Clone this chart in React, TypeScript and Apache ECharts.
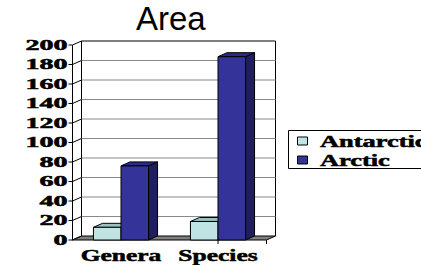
import React, { useEffect, useRef } from "react";
import * as echarts from "echarts";

const categories = ["Genera", "Species"];
const seriesNames = ["Antarctic", "Arctic"];
const antarcticValues = [13, 19];
const arcticValues = [76, 188];
const yTicks = [0, 20, 40, 60, 80, 100, 120, 140, 160, 180, 200];
const titleText = "Area";

const DX = 9;
const DY = -4;
const SERIF = "Liberation Serif";

const palette = [
  { front: "#C0E4E4", top: "#98C2C2", side: "#7FA6A6" },
  { front: "#333399", top: "#2B2B86", side: "#1F1F5C" },
];

function barRender(s: number) {
  return (params: any, api: any) => {
    const idx = api.value(0);
    const v = api.value(1);
    const top = api.coord([idx, v]);
    const base = api.coord([idx, 0]);
    const band = api.size([1, 0])[0];
    const w = band * 0.284;
    const xl = s === 0 ? top[0] - w : top[0];
    const xr = xl + w;
    const yt = top[1];
    const yb = base[1];
    const c = palette[s];
    const st = { stroke: "#000", lineWidth: 1 };
    return {
      type: "group",
      children: [
        {
          type: "polygon",
          shape: { points: [[xr, yt], [xr + DX, yt + DY], [xr + DX, yb + DY], [xr, yb]] },
          style: { fill: c.side, ...st },
        },
        {
          type: "polygon",
          shape: { points: [[xl, yt], [xr, yt], [xr + DX, yt + DY], [xl + DX, yt + DY]] },
          style: { fill: c.top, ...st },
        },
        {
          type: "rect",
          shape: { x: xl, y: yt, width: w, height: yb - yt },
          style: { fill: c.front, ...st },
        },
      ],
    };
  };
}

const heavy = { stroke: "#000", lineWidth: 0.5 };

export default function App() {
  const ref = useRef<HTMLDivElement>(null);
  useEffect(() => {
    if (!ref.current) return;
    const chart = echarts.init(ref.current, null, { renderer: "svg" });
    const valueSets = [antarcticValues, arcticValues];

    const legendChildren: any[] = [
      {
        type: "rect",
        shape: { x: 288.5, y: 130.5, width: 160, height: 38 },
        style: { fill: "#fff", stroke: "#000", lineWidth: 1 },
      },
    ];
    seriesNames.forEach((name, i) => {
      const cy = 141.5 + i * 19;
      legendChildren.push({
        type: "rect",
        shape: { x: 297.5, y: cy - 4.5, width: 10, height: 8 },
        style: { fill: palette[i].front, stroke: "#000", lineWidth: 1 },
      });
      legendChildren.push({
        type: "text",
        x: 320,
        y: cy,
        scaleX: 1.65,
        style: {
          text: name,
          fontFamily: SERIF,
          fontWeight: "bold",
          fontSize: 16,
          fill: "#000",
          ...heavy,
          align: "left",
          verticalAlign: "middle",
        },
      });
    });

    chart.setOption({
      animation: false,
      backgroundColor: "#fff",
      title: {
        text: titleText,
        left: 136,
        top: 2,
        padding: 0,
        textStyle: { fontFamily: "Liberation Sans", fontSize: 33, fontWeight: "normal", color: "#000" },
      },
      grid: { left: 72.5, top: 45, width: 194, height: 195 },
      xAxis: {
        type: "category",
        data: categories,
        axisLine: { show: false },
        axisTick: { show: false },
        axisLabel: { show: false },
      },
      yAxis: {
        type: "value",
        min: 0,
        max: 200,
        interval: 20,
        axisLine: { show: false },
        axisTick: { show: false },
        axisLabel: { show: false },
        splitLine: { show: false },
      },
      graphic: legendChildren,
      series: [
        {
          type: "custom",
          name: "frame",
          silent: true,
          clip: false,
          z: 1,
          data: [[0]],
          renderItem: (params: any, api: any) => {
            const cs = params.coordSys;
            const x0 = cs.x;
            const x1 = cs.x + cs.width;
            const yt = cs.y;
            const yb = cs.y + cs.height;
            const mid = api.coord([0.5, 0])[0];
            return {
              type: "group",
              children: [
                {
                  type: "polyline",
                  shape: { points: [[x0 + DX, yb + DY], [x0 + DX, yt + DY], [x1 + DX, yt + DY], [x1 + DX, yb + DY]] },
                  style: { fill: null, stroke: "#000", lineWidth: 1 },
                },
                {
                  type: "line",
                  shape: { x1: x0, y1: yt, x2: x0, y2: yb },
                  style: { stroke: "#000", lineWidth: 1 },
                },
                {
                  type: "polygon",
                  shape: { points: [[x0, yb], [x1, yb], [x1 + DX, yb + DY], [x0 + DX, yb + DY]] },
                  style: { fill: "#808080", stroke: "#000", lineWidth: 1 },
                },
                {
                  type: "line",
                  shape: { x1: mid, y1: yb, x2: mid, y2: yb + 4 },
                  style: { stroke: "#000", lineWidth: 1 },
                },
                {
                  type: "line",
                  shape: { x1: x1, y1: yb, x2: x1, y2: yb + 4 },
                  style: { stroke: "#000", lineWidth: 1 },
                },
              ],
            };
          },
        },
        {
          type: "custom",
          name: "ticks",
          silent: true,
          clip: false,
          z: 2,
          data: yTicks.map((v) => [0, v]),
          encode: { x: 0, y: 1 },
          renderItem: (params: any, api: any) => {
            const cs = params.coordSys;
            const x0 = cs.x;
            const x1 = cs.x + cs.width;
            const v = api.value(1);
            const y = api.coord([0, v])[1];
            const children: any[] = [
              {
                type: "polyline",
                shape: { points: [[x0 - 4, y], [x0, y], [x0 + DX, y + DY]] },
                style: { fill: null, stroke: "#000", lineWidth: 1 },
              },
              {
                type: "text",
                x: x0 - 5,
                y: y,
                scaleX: 2.0,
                style: {
                  text: String(v),
                  fontFamily: SERIF,
                  fontWeight: "bold",
                  fontSize: 14,
                  fill: "#000",
                  ...heavy,
                  align: "right",
                  verticalAlign: "middle",
                },
              },
            ];
            if (v !== 0 && v !== 200) {
              children.unshift({
                type: "line",
                shape: { x1: x0 + DX, y1: y + DY, x2: x1 + DX, y2: y + DY },
                style: { stroke: "#888", lineWidth: 1 },
              });
            }
            return { type: "group", children };
          },
        },
        {
          type: "custom",
          name: "catLabels",
          silent: true,
          clip: false,
          z: 2,
          data: categories.map((c, i) => [i, 0]),
          encode: { x: 0, y: 1 },
          renderItem: (params: any, api: any) => {
            const i = api.value(0);
            const p = api.coord([i, 0]);
            return {
              type: "text",
              x: p[0],
              y: p[1] + 16,
              scaleX: 1.5,
              style: {
                text: categories[i],
                fontFamily: SERIF,
                fontWeight: "bold",
                fontSize: 17,
                fill: "#000",
                ...heavy,
                align: "center",
                verticalAlign: "middle",
              },
            };
          },
        },
        ...seriesNames.map((name, s) => ({
          type: "custom",
          name,
          clip: false,
          z: 3,
          data: valueSets[s].map((v, i) => [i, v]),
          encode: { x: 0, y: 1 },
          renderItem: barRender(s),
        })),
      ],
    });
    return () => chart.dispose();
  }, []);
  return (
    <div
      ref={ref}
      style={{ position: "fixed", left: 0, top: 0, width: 421, height: 265 }}
    />
  );
}
